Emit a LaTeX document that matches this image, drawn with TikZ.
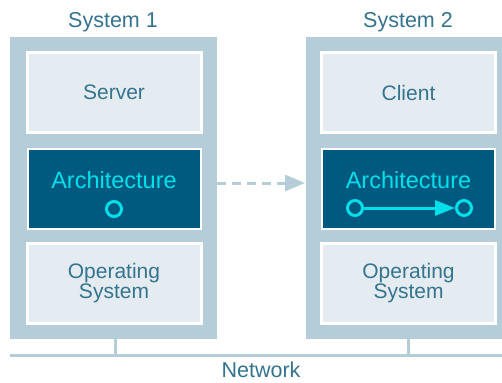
\documentclass[tikz,border=0pt]{standalone}
\usepackage{fontspec}
\setmainfont{Liberation Sans}
\usetikzlibrary{arrows.meta}
\definecolor{frame}{HTML}{B4CDD8}
\definecolor{pale}{HTML}{E4ECF1}
\definecolor{deep}{HTML}{005A80}
\definecolor{ink}{HTML}{35748F}
\definecolor{glow}{HTML}{00E0EA}
\tikzset{
  sysbox/.style={fill=frame, draw=none, minimum width=207pt, minimum height=302pt, inner sep=0pt},
  layer/.style={fill=pale, draw=white, line width=3pt, minimum width=174pt, minimum height=80pt,
    inner sep=0pt, text=ink, font=\fontsize{21}{23}\selectfont, align=center},
  archbox/.style={fill=deep, draw=white, line width=2pt, minimum width=173pt, minimum height=80pt, inner sep=0pt},
  archlabel/.style={text=glow, font=\fontsize{23.5}{25}\selectfont, inner sep=0pt},
  title/.style={text=ink, font=\fontsize{21.5}{23}\selectfont, inner sep=0pt},
  port/.style={circle, draw=glow, fill=deep, line width=3pt, minimum size=15pt, inner sep=0pt},
  link/.style={draw=frame, line width=3pt},
}
\begin{document}
\begin{tikzpicture}[x=1pt, y=-1pt]
\clip (0,0) rectangle (502,382);
\fill[white] (0,0) rectangle (502,382);

% the two machines
\node[sysbox] (sysA) at (113.5,188) {};
\node[sysbox] (sysB) at (409,188) {};
\node[title] (titleA) at (113,22) {System 1};
\node[title] (titleB) at (408,22) {System 2};

% layers of system 1
\node[layer] (server) at (114,92.5) {Server};
\node[archbox] (archA) at (114,188.5) {};
\node[layer] (osA) at (114,283.5) {Operating\\[-3pt]System};
\node[archlabel] (archtxtA) at (114,180) {Architecture};
\node[port] (portA) at (114,209) {};

% layers of system 2
\node[layer] (client) at (408.5,92.5) {Client};
\node[archbox] (archB) at (408.5,188.5) {};
\node[layer] (osB) at (408.5,283.5) {Operating\\[-3pt]System};
\node[archlabel] (archtxtB) at (408.5,180) {Architecture};
\node[port] (portB1) at (355,208) {};
\node[port] (portB2) at (464,208) {};
\draw[glow, line width=3pt, -{Triangle[length=20pt, width=15pt]}] (portB1) -- (portB2);

% migration of the architecture
\coordinate (migA) at (217,183);
\coordinate (migB) at (305,183);
\draw[link, dash pattern=on 9pt off 6pt, -{Triangle[length=20pt, width=16pt]}] (migA) -- (migB);

% network bus
\coordinate (netL) at (10,355);
\coordinate (netR) at (502,355);
\coordinate (tapA) at (115,355);
\coordinate (tapB) at (408,355);
\draw[link] (netL) -- (netR);
\draw[link] (sysA.south -| tapA) -- (tapA);
\draw[link] (sysB.south -| tapB) -- (tapB);
\node[title] (network) at (261,370) {Network};
\end{tikzpicture}
\end{document}
